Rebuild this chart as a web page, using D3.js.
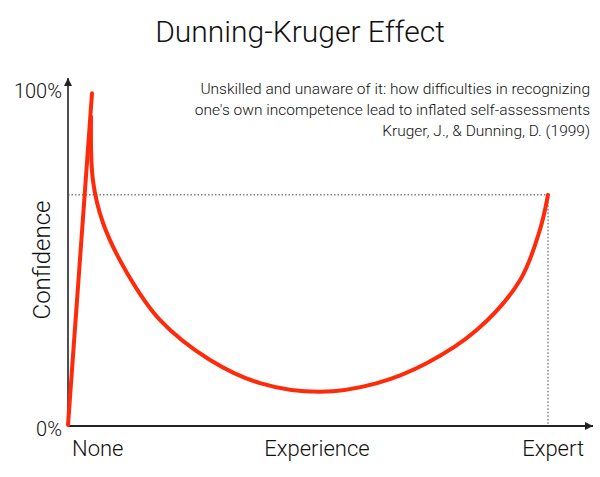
<!DOCTYPE html><html><head><meta charset="utf-8"><script src="https://cdn.jsdelivr.net/npm/d3@7"></script>
<style>body{margin:0;background:#fff}text{font-family:Roboto,sans-serif;font-weight:300;fill:#111}</style></head><body>
<svg id="c" width="600" height="477"></svg>
<script>
const xTicks=["None","Experience","Expert"];
const yTicks=["0%","100%"];
const riseX=[0,5];
const riseY=[0,99];
const expX=[4.8,5.2,7.3,12.3,19.2,29.6,40,52.5,64.4,74.8,85.2,94.2,98.3,100];
const confY=[92,73,60.3,45.4,31.3,19.4,12.5,9.9,12.5,18.5,28.4,43.3,58.2,68.7];
const subtitle=["Unskilled and unaware of it: how difficulties in recognizing","one's own incompetence lead to inflated self-assessments","Kruger, J., & Dunning, D. (1999)"];
const svg=d3.select("#c");
const x=d3.scaleLinear([0,100],[68,548]);
const y=d3.scaleLinear([0,100],[425,90]);
svg.append("defs").append("marker").attr("id","a").attr("viewBox","0 0 10 10").attr("refX",10).attr("refY",5)
 .attr("markerWidth",8).attr("markerHeight",8).attr("markerUnits","userSpaceOnUse").attr("orient","auto")
 .append("path").attr("d","M0,0L10,5L0,10z").attr("fill","#222");
svg.append("line").attr("x1",x(0)).attr("y1",y(0)).attr("x2",x(0)).attr("y2",78).attr("stroke","#222").attr("stroke-width",1.6).attr("marker-end","url(#a)");
svg.append("line").attr("x1",x(0)).attr("y1",y(0)+1).attr("x2",593).attr("y2",y(0)+1).attr("stroke","#222").attr("stroke-width",2).attr("marker-end","url(#a)");
const last=expX.length-1;
svg.append("line").attr("x1",x(0)).attr("x2",x(100)).attr("y1",y(confY[last])).attr("y2",y(confY[last])).attr("stroke","#444").attr("stroke-dasharray","1.5,2");
svg.append("line").attr("x1",x(100)).attr("x2",x(100)).attr("y1",y(confY[last])).attr("y2",y(0)).attr("stroke","#444").attr("stroke-dasharray","1.5,2");
const g=svg.append("g").attr("fill","none").attr("stroke","#ff2a0a").attr("stroke-width",4).attr("stroke-linecap","round");
const ln=d3.line().x(d=>x(d[0])).y(d=>y(d[1]));
g.append("path").attr("d",ln(riseX.map((v,i)=>[v,riseY[i]])));
g.append("path").attr("d",ln.curve(d3.curveCatmullRom)(expX.map((v,i)=>[v,confY[i]])));
svg.append("text").attr("x",300).attr("y",42).attr("text-anchor","middle").attr("font-size",30).text("Dunning-Kruger Effect");
subtitle.forEach((s,i)=>svg.append("text").attr("x",590).attr("y",94+i*21).attr("text-anchor","end").attr("font-size",15.5).text(s));
svg.append("text").attr("x",62).attr("y",98).attr("text-anchor","end").attr("font-size",20).text(yTicks[1]);
svg.append("text").attr("x",62).attr("y",436).attr("text-anchor","end").attr("font-size",20).text(yTicks[0]);
svg.append("text").attr("transform","translate(50,260)rotate(-90)").attr("text-anchor","middle").attr("font-size",24).text("Confidence");
[["start",72],["middle",317],["end",584]].forEach(([a,px],i)=>svg.append("text").attr("x",px).attr("y",456).attr("text-anchor",a).attr("font-size",22).text(xTicks[i]));
</script></body></html>
